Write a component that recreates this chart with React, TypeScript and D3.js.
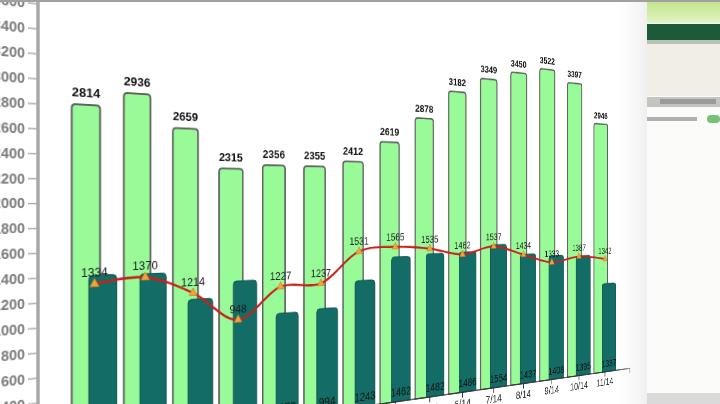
import React from "react";
import * as d3 from "d3";

const months = ["9/13", "10/13", "11/13", "12/13", "1/14", "2/14", "3/14", "4/14", "5/14", "6/14", "7/14", "8/14", "9/14", "10/14", "11/14"];
const totalValues = [2814, 2936, 2659, 2315, 2356, 2355, 2412, 2619, 2878, 3182, 3349, 3450, 3522, 3397, 2946];
// heights of the dark bars as drawn in the picture
const barValues = [1405, 1400, 1157, 1299, 978, 994, 1243, 1462, 1482, 1486, 1554, 1437, 1408, 1395, 1050];
// labels printed at the foot of the dark bars
const barLabels = [1405, 1400, 1157, 1299, 978, 994, 1243, 1462, 1482, 1486, 1554, 1437, 1408, 1395, 1337];
const lineValues = [1334, 1370, 1214, 948, 1227, 1237, 1531, 1565, 1535, 1462, 1537, 1434, 1333, 1387, 1342];
const yTicks = d3.range(400, 3601, 200);

// flat chart geometry (before the photo's perspective)
const FW = 1000;
const FH = 520;
const BASE = 453;
const PX_PER_UNIT = 0.1247;
// perspective (camera turned about a vertical axis)
const X0 = 38;
const XV = 1778;
const YH = 204;
const D = XV - X0;

const FONT = "'Liberation Sans', Arial, sans-serif";

function topRounded(x0: number, y0: number, w: number, h: number, r: number) {
  const rr = Math.min(r, h / 2, w / 2);
  return `M${x0},${y0 + h}V${y0 + rr}Q${x0},${y0} ${x0 + rr},${y0}H${x0 + w - rr}Q${x0 + w},${y0} ${x0 + w},${y0 + rr}V${y0 + h}Z`;
}

export default function App() {
  const y = d3.scaleLinear().domain([0, 3600]).range([BASE, BASE - 3600 * PX_PER_UNIT]);
  const x = d3.scaleBand<string>().domain(months).range([68.45, 906.95]).paddingInner(0).paddingOuter(0);
  const gc = (m: string) => (x(m) as number) + x.bandwidth() / 2;
  const OFF = 9;
  const BW = 30;

  const line = d3
    .line<number>()
    .x((_, i) => gc(months[i]))
    .y((v) => y(v))
    .curve(d3.curveCatmullRom.alpha(0.5));
  const tri = d3.symbol(d3.symbolTriangle, 40)() as string;

  const m = [XV / D, YH / D, 0, 1 / D, 0, 1, 0, 0, 0, 0, 1, 0, X0 * (1 - XV / D), (-YH * X0) / D, 0, 1 - X0 / D];

  return (
    <div style={{ position: "fixed", left: 0, top: 0, width: 720, height: 404, overflow: "hidden", background: "#fff" }}>
      <svg
        width={FW}
        height={FH}
        style={{ position: "absolute", left: 0, top: 0, transformOrigin: "0 0", transform: `matrix3d(${m.join(",")})`, overflow: "visible" }}
        fontFamily={FONT}
      >
        {/* y axis */}
        <line x1={X0} x2={X0} y1={-20} y2={BASE} stroke="#a8a8a8" strokeWidth={3.5} />
        {yTicks.map((t) => (
          <g key={t}>
            <line x1={28} x2={37} y1={y(t)} y2={y(t)} stroke="#b0b0b0" strokeWidth={1.5} />
            <text x={25} y={y(t)} dy="0.35em" textAnchor="end" fontSize={14} fontWeight="bold" fill="#7a7a7a">
              {t}
            </text>
          </g>
        ))}
        {/* green total bars */}
        {months.map((mo, i) => {
          const cx = gc(mo) - OFF;
          const top = y(totalValues[i]);
          return (
            <path key={"g" + mo} d={topRounded(cx - BW / 2, top, BW, BASE - top, 4)} fill="#98fb98" stroke="#606060" strokeWidth={2} />
          );
        })}
        {/* teal bars */}
        {months.map((mo, i) => {
          const cx = gc(mo) + OFF;
          const top = y(barValues[i]);
          return <path key={"t" + mo} d={topRounded(cx - BW / 2, top, BW, BASE - top, 4)} fill="#136d66" stroke="#0d4f4a" strokeWidth={1} />;
        })}
        {/* green labels */}
        {months.map((mo, i) => (
          <text key={"gl" + mo} x={gc(mo) - OFF} y={y(totalValues[i]) - 8} textAnchor="middle" fontSize={13.5} fontWeight="bold" fill="#111">
            {totalValues[i]}
          </text>
        ))}
        {/* teal labels */}
        {months.map((mo, i) => (
          <text key={"tl" + mo} x={gc(mo) + OFF} y={BASE - 7} textAnchor="middle" fontSize={14.5} fill="#111">
            {barLabels[i]}
          </text>
        ))}
        {/* x axis */}
        <line x1={X0} x2={935} y1={BASE} y2={BASE} stroke="#333" strokeWidth={1.6} />
        {months.map((mo) => (
          <line key={"xt" + mo} x1={gc(mo)} x2={gc(mo)} y1={BASE} y2={BASE + 7} stroke="#333" strokeWidth={1.4} />
        ))}
        <line x1={935} x2={935} y1={BASE} y2={BASE + 7} stroke="#333" strokeWidth={1.4} />
        {months.map((mo) => (
          <text key={"xl" + mo} x={gc(mo)} y={BASE + 20} textAnchor="middle" fontSize={15} fill="#222">
            {mo}
          </text>
        ))}
        {/* line series */}
        <path d={line(lineValues) as string} fill="none" stroke="#c9201c" strokeWidth={2.6} />
        {months.map((mo, i) => (
          <path key={"mk" + mo} d={tri} transform={`translate(${gc(mo)},${y(lineValues[i])})`} fill="#f2a43a" stroke="#d08020" strokeWidth={0.8} />
        ))}
        {months.map((mo, i) => (
          <text key={"ll" + mo} x={gc(mo)} y={y(lineValues[i]) - 8} textAnchor="middle" fontSize={13} fill="#1a1a1a">
            {lineValues[i]}
          </text>
        ))}
      </svg>
      {/* surrounding screen seen in the photo */}
      <svg width={720} height={404} style={{ position: "absolute", left: 0, top: 0 }}>
        <defs>
          <linearGradient id="fade" x1="0" x2="1" y1="0" y2="0">
            <stop offset="0" stopColor="#f4f4f4" stopOpacity={0} />
            <stop offset="1" stopColor="#eeeeee" stopOpacity={0.9} />
          </linearGradient>
          <linearGradient id="lg" x1="0" x2="0" y1="0" y2="1">
            <stop offset="0" stopColor="#c2e58e" />
            <stop offset="1" stopColor="#e2f4c6" />
          </linearGradient>
        </defs>
        <rect x={618} y={0} width={29} height={404} fill="url(#fade)" />
        <rect x={647} y={0} width={73} height={404} fill="#fbfbfa" />
        <rect x={647} y={2} width={73} height={21} fill="url(#lg)" />
        <rect x={647} y={24} width={73} height={16} fill="#1b5b3a" />
        <rect x={647} y={40} width={73} height={4} fill="#b9c2b6" />
        <rect x={647} y={44} width={73} height={52} fill="#f1eee5" />
        <rect x={647} y={97} width={73} height={10} fill="#c4c4c0" />
        <rect x={660} y={99} width={56} height={5} fill="#9a9a96" />
        <rect x={647} y={117} width={50} height={4} fill="#b0b0b0" />
        <rect x={707} y={115} width={13} height={8} rx={4} fill="#78c078" />
        <rect x={647} y={393} width={73} height={11} fill="#dadada" />
        <rect x={0} y={0} width={720} height={2} fill="#a0a0a0" />
      </svg>
    </div>
  );
}
